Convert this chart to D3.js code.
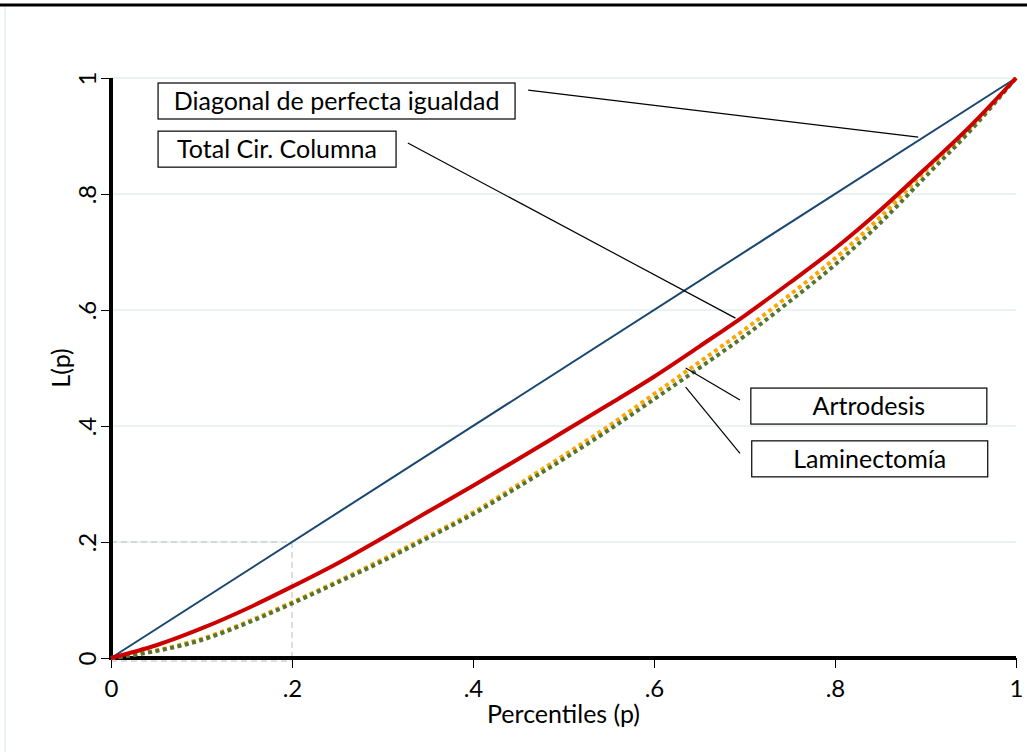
<!DOCTYPE html>
<html>
<head>
<meta charset="utf-8">
<script src="https://cdn.jsdelivr.net/npm/d3@7"></script>
<style>
  body { margin: 0; background: #fff; }
  svg { display: block; }
  text { font-family: Lato, "Open Sans", sans-serif; fill: #000; }
</style>
</head>
<body>
<svg id="chart" width="1027" height="752"></svg>
<script>
// percentiles p and Lorenz ordinates L(p)
var percentiles = [0, .05, .1, .15, .2, .25, .3, .35, .4, .45, .5, .55, .6, .65, .7, .75, .8, .85, .9, .95, 1];
var totalCir = [0, .022, .051, .085, .123, .163, .207, .252, .297, .343, .39, .437, .485, .537, .59, .647, .706, .772, .844, .918, 1];
var artrodesis = [0, .013, .033, .062, .096, .132, .17, .21, .251, .299, .349, .4, .455, .51, .566, .626, .689, .76, .84, .915, 1];
var laminectomia = [0, .012, .031, .06, .094, .13, .167, .207, .248, .295, .343, .393, .446, .5, .555, .615, .678, .75, .83, .91, 1];
var diagonal = [0, 1];
var diagonalP = [0, 1];

var tickValues = [0, .2, .4, .6, .8, 1];
var tickLabels = ["0", ".2", ".4", ".6", ".8", "1"];

// labels: text, box anchor (data units, left/top), pointer start and end (data units)
var labels = [
  { text: "Diagonal de perfecta igualdad", bx: .052, by: 1.0, bw: 357, px: .461, py: .979, tx: .892, ty: .898 },
  { text: "Total Cir. Columna", bx: .052, by: .917, bw: 238, px: .328, py: .888, tx: .69, ty: .586 },
  { text: "Artrodesis", bx: .707, by: .474, bw: 236, px: .695, py: .445, tx: .635, ty: .5 },
  { text: "Laminectomía", bx: .708, by: .383, bw: 236, px: .695, py: .353, tx: .635, ty: .467 }
];

var FONT = "25px";

var svg = d3.select("#chart");
var width = 1027, height = 752;

var x = d3.scaleLinear().domain([0, 1]).range([111, 1016]);
var y = d3.scaleLinear().domain([0, 1]).range([658, 78]);

// frame bits at the page edge
svg.append("line").attr("x1", 0).attr("x2", width).attr("y1", 5).attr("y2", 5)
  .attr("stroke", "#000").attr("stroke-width", 3);
svg.append("line").attr("x1", 5).attr("x2", 5).attr("y1", 7).attr("y2", height)
  .attr("stroke", "#e3eef0").attr("stroke-width", 1.5);

// grid
svg.append("g").selectAll("line").data(tickValues.slice(1)).enter().append("line")
  .attr("x1", x(0)).attr("x2", x(1))
  .attr("y1", d => y(d)).attr("y2", d => y(d))
  .attr("stroke", "#eaf2f3").attr("stroke-width", 2);

// dashed reference at p = .2
var ref = svg.append("g").attr("stroke", "#bdbdbd").attr("stroke-width", 1).attr("stroke-dasharray", "6,4").attr("fill", "none");
ref.append("line").attr("x1", x(.2)).attr("x2", x(.2)).attr("y1", y(.2)).attr("y2", y(0) + 3);
ref.append("line").attr("x1", x(0)).attr("x2", x(.2)).attr("y1", y(.2)).attr("y2", y(.2));
ref.append("line").attr("x1", x(0)).attr("x2", x(.2)).attr("y1", y(0) + 3).attr("y2", y(0) + 3);

// axes
var xAxis = d3.axisBottom(x).tickValues(tickValues).tickFormat((d, i) => tickLabels[i]).tickSize(10).tickPadding(12);
var yAxis = d3.axisLeft(y).tickValues(tickValues).tickFormat((d, i) => tickLabels[i]).tickSize(10).tickPadding(8);

var gx = svg.append("g").attr("transform", `translate(0,${ y(0) })`).call(xAxis);
var gy = svg.append("g").attr("transform", `translate(${ x(0) },0)`).call(yAxis);

[gx, gy].forEach(g => {
  g.select(".domain").remove();
  g.selectAll(".tick line").attr("stroke", "#000").attr("stroke-width", 1);
  g.selectAll(".tick text").style("font-size", "24px").style("font-family", "Lato, 'Open Sans', sans-serif");
});
gy.selectAll(".tick text")
  .attr("transform", "rotate(-90, -23, 0)")
  .attr("x", -23).attr("dy", "0.35em")
  .style("text-anchor", "middle");

svg.append("line").attr("x1", x(0)).attr("x2", x(1)).attr("y1", y(0)).attr("y2", y(0))
  .attr("stroke", "#000").attr("stroke-width", 4);
svg.append("line").attr("x1", x(0)).attr("x2", x(0)).attr("y1", y(1)).attr("y2", y(0) + 2)
  .attr("stroke", "#000").attr("stroke-width", 4);

svg.append("text").text("Percentiles (p)")
  .attr("x", (x(0) + x(1)) / 2).attr("y", 723)
  .style("font-size", FONT).style("text-anchor", "middle");
svg.append("text").text("L(p)")
  .attr("transform", `translate(70,${ (y(0) + y(1)) / 2 }) rotate(-90)`)
  .style("font-size", FONT).style("text-anchor", "middle");

// curves
var line = d3.line().x(d => x(d[0])).y(d => y(d[1])).curve(d3.curveMonotoneX);

function series(values, pts) {
  return pts.map((p, i) => [p, values[i]]);
}

svg.append("path").datum(series(diagonal, diagonalP)).attr("d", line)
  .attr("fill", "none").attr("stroke", "#1a476f").attr("stroke-width", 2);
svg.append("path").datum(series(artrodesis, percentiles)).attr("d", line)
  .attr("fill", "none").attr("stroke", "#ffa500").attr("stroke-width", 4).attr("stroke-dasharray", "4,3.5");
svg.append("path").datum(series(laminectomia, percentiles)).attr("d", line)
  .attr("fill", "none").attr("stroke", "#55752f").attr("stroke-width", 4).attr("stroke-dasharray", "4,3.5");
svg.append("path").datum(series(totalCir, percentiles)).attr("d", line)
  .attr("fill", "none").attr("stroke", "#cc0000").attr("stroke-width", 4);

// label boxes and pointers
var lab = svg.append("g").selectAll("g").data(labels).enter().append("g");
lab.append("line")
  .attr("x1", d => x(d.px)).attr("y1", d => y(d.py))
  .attr("x2", d => x(d.tx)).attr("y2", d => y(d.ty))
  .attr("stroke", "#000").attr("stroke-width", 1.2);
lab.append("rect")
  .attr("x", d => x(d.bx)).attr("y", d => y(d.by) + 5)
  .attr("width", d => d.bw).attr("height", 36)
  .attr("fill", "#fff").attr("stroke", "#000").attr("stroke-width", 1.2);
lab.append("text").text(d => d.text)
  .attr("x", d => x(d.bx) + d.bw / 2).attr("y", d => y(d.by) + 23)
  .attr("dy", "0.35em")
  .style("font-size", FONT).style("text-anchor", "middle");
</script>
</body>
</html>
